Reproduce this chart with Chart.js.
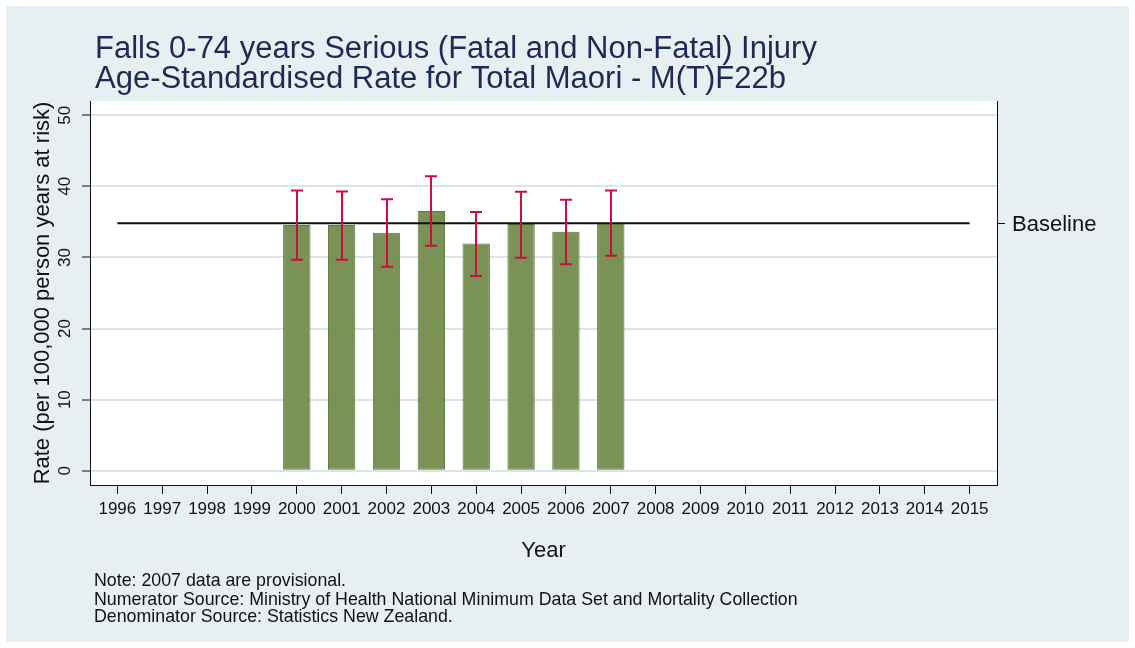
<!DOCTYPE html>
<html>
<head>
<meta charset="utf-8">
<script src="https://cdn.jsdelivr.net/npm/chart.js@4/dist/chart.umd.min.js"></script>
<style>
  html, body { margin: 0; padding: 0; background: #ffffff; }
  canvas { display: block; }
</style>
</head>
<body>
<canvas id="chart" width="1135" height="648"></canvas>
<script>
// Axis categories and tick values
const years = [1996, 1997, 1998, 1999, 2000, 2001, 2002, 2003, 2004, 2005,
               2006, 2007, 2008, 2009, 2010, 2011, 2012, 2013, 2014, 2015];
const yTicks = [0, 10, 20, 30, 40, 50];

// Age-standardised rates with 95% confidence limits
const barYears = [2000, 2001, 2002, 2003, 2004, 2005, 2006, 2007];
const rates    = [34.55, 34.55, 33.47, 36.52, 31.97, 34.69, 33.61, 34.88];
const ciLower  = [29.68, 29.68, 28.70, 31.64, 27.39, 29.96, 29.03, 30.24];
const ciUpper  = [39.42, 39.28, 38.20, 41.43, 36.38, 39.23, 38.10, 39.42];

// Baseline reference rate, drawn across the full year range
const baseline = 34.8;
const baselineYears = [1996, 2015];

const titleLines = [
  'Falls 0-74 years Serious (Fatal and Non-Fatal) Injury',
  'Age-Standardised Rate for Total Maori - M(T)F22b'
];
const notes = [
  'Note: 2007 data are provisional.',
  'Numerator Source: Ministry of Health National Minimum Data Set and Mortality Collection',
  'Denominator Source: Statistics New Zealand.'
];

const FONT = '"Liberation Sans", Arial, Helvetica, sans-serif';

// Page background, outer panel and white plot region
const backgroundPlugin = {
  id: 'panelBackground',
  beforeDraw(chart) {
    const { ctx, width, height, chartArea } = chart;
    ctx.save();
    ctx.fillStyle = '#ffffff';
    ctx.fillRect(0, 0, width, height);
    ctx.fillStyle = '#e8eff2';
    ctx.fillRect(6, 6, width - 12, height - 12);
    ctx.fillStyle = '#ffffff';
    ctx.fillRect(chartArea.left, chartArea.top,
                 chartArea.right - chartArea.left, chartArea.bottom - chartArea.top);
    ctx.restore();
  }
};

// Confidence-interval whiskers with caps, placed through the chart scales
const errorBarPlugin = {
  id: 'ciWhiskers',
  afterDatasetsDraw(chart) {
    const { ctx } = chart;
    const xs = chart.scales.x, ys = chart.scales.y;
    const capHalf = 6;
    ctx.save();
    ctx.strokeStyle = '#c8103c';
    ctx.lineWidth = 2;
    ctx.lineCap = 'butt';
    barYears.forEach((yr, i) => {
      const x = Math.round(xs.getPixelForValue(yr));
      const yl = ys.getPixelForValue(ciLower[i]);
      const yu = ys.getPixelForValue(ciUpper[i]);
      ctx.beginPath();
      ctx.moveTo(x, yu);
      ctx.lineTo(x, yl);
      ctx.moveTo(x - capHalf, yu);
      ctx.lineTo(x + capHalf, yu);
      ctx.moveTo(x - capHalf, yl);
      ctx.lineTo(x + capHalf, yl);
      ctx.stroke();
    });
    ctx.restore();
  }
};

// Two-line heading and source notes
const textPlugin = {
  id: 'headingAndNotes',
  afterDraw(chart) {
    const { ctx } = chart;
    ctx.save();
    ctx.textAlign = 'left';
    ctx.textBaseline = 'alphabetic';
    ctx.fillStyle = '#1c2b55';
    ctx.font = '31px ' + FONT;
    ctx.fillText(titleLines[0], 95, 58);
    ctx.fillText(titleLines[1], 95, 88);
    ctx.fillStyle = '#111111';
    ctx.font = '17.8px ' + FONT;
    ctx.fillText(notes[0], 94, 586);
    ctx.fillText(notes[1], 94, 605);
    ctx.fillText(notes[2], 94, 622);
    ctx.restore();
  }
};

const xRange = { min: 1995.39, max: 2015.61 };
const yRange = { min: -2, max: 52 };

new Chart(document.getElementById('chart'), {
  data: {
    datasets: [
      {
        type: 'bar',
        label: 'Rate',
        data: barYears.map((yr, i) => ({ x: yr, y: rates[i] })),
        backgroundColor: '#7a9256',
        borderColor: '#5a783a',
        borderWidth: 1,
        borderSkipped: false,
        categoryPercentage: 1.0,
        barPercentage: 0.61,
        order: 2
      },
      {
        type: 'line',
        label: 'Baseline',
        data: baselineYears.map(yr => ({ x: yr, y: baseline })),
        borderColor: '#111111',
        borderWidth: 2,
        pointRadius: 0,
        fill: false,
        order: 1
      }
    ]
  },
  options: {
    responsive: false,
    animation: false,
    devicePixelRatio: 1,
    layout: { padding: { top: 101, left: 0, right: 0, bottom: 0 } },
    plugins: {
      legend: { display: false },
      tooltip: { enabled: false },
      title: { display: false }
    },
    scales: {
      x: {
        type: 'linear',
        position: 'bottom',
        offset: false,
        min: xRange.min,
        max: xRange.max,
        afterBuildTicks(scale) { scale.ticks = years.map(v => ({ value: v })); },
        afterFit(scale) { scale.height = 163; },
        ticks: {
          autoSkip: false,
          maxRotation: 0,
          minRotation: 0,
          padding: 5,
          color: '#111111',
          font: { family: FONT, size: 17 },
          callback: v => String(v)
        },
        grid: {
          offset: false,
          drawOnChartArea: false,
          drawTicks: true,
          tickLength: 9,
          tickColor: '#111111',
          tickWidth: 1
        },
        border: { display: true, color: '#111111', width: 1 },
        title: {
          display: true,
          text: 'Year',
          color: '#111111',
          font: { family: FONT, size: 22 },
          padding: { top: 0, bottom: 84 }
        }
      },
      y: {
        type: 'linear',
        position: 'left',
        min: yRange.min,
        max: yRange.max,
        afterBuildTicks(scale) { scale.ticks = yTicks.map(v => ({ value: v })); },
        afterFit(scale) { scale.width = 90; },
        ticks: {
          minRotation: 90,
          maxRotation: 90,
          crossAlign: 'center',
          padding: 7,
          color: '#111111',
          font: { family: FONT, size: 17 }
        },
        grid: {
          drawOnChartArea: true,
          color: '#dae5eb',
          lineWidth: 2,
          drawTicks: true,
          tickLength: 8,
          tickColor: '#111111',
          tickWidth: 1
        },
        border: { display: true, color: '#111111', width: 1 },
        title: {
          display: true,
          text: 'Rate (per 100,000 person years at risk)',
          color: '#111111',
          font: { family: FONT, size: 22 },
          padding: { top: 30, bottom: 0 }
        }
      },
      yBaseline: {
        type: 'linear',
        position: 'right',
        min: yRange.min,
        max: yRange.max,
        afterBuildTicks(scale) { scale.ticks = [{ value: baseline }]; },
        afterFit(scale) { scale.width = 138; },
        ticks: {
          padding: 7,
          labelOffset: 2,
          color: '#111111',
          font: { family: FONT, size: 22 },
          callback: () => 'Baseline'
        },
        grid: {
          drawOnChartArea: false,
          drawTicks: true,
          tickLength: 8,
          tickColor: '#111111',
          tickWidth: 1
        },
        border: { display: true, color: '#111111', width: 1 }
      }
    }
  },
  plugins: [backgroundPlugin, errorBarPlugin, textPlugin]
});
</script>
</body>
</html>
